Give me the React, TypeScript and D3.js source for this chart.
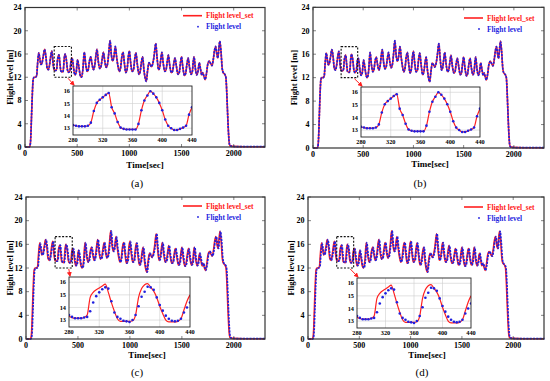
import React from "react";
import * as d3 from "d3";

// main flight record (key points)
const mainTime = [
  0, 40, 48, 55, 62, 70, 78, 86, 100, 112, 120, 132, 142, 152, 162, 175, 188, 200, 212, 224,
  236, 248, 258, 268, 280, 296, 304, 312, 326, 334, 344, 362, 368, 376, 384, 396, 408, 418, 432, 440,
  452, 464, 478, 490, 504, 516, 530, 542, 554, 568, 582, 596, 606, 618, 630, 642, 656, 668, 680, 690,
  702, 716, 728, 740, 752, 764, 778, 790, 802, 815, 828, 840, 852, 866, 878, 892, 904, 916, 928, 940,
  952, 966, 978, 990, 1000, 1012, 1026, 1040, 1052, 1063, 1076, 1092, 1104, 1116, 1127, 1140, 1152, 1162, 1174, 1188,
  1200, 1212, 1224, 1236, 1253, 1266, 1280, 1292, 1302, 1312, 1324, 1340, 1352, 1364, 1374, 1386, 1402, 1414, 1426, 1437,
  1450, 1466, 1478, 1490, 1500, 1512, 1528, 1540, 1552, 1564, 1576, 1592, 1604, 1612, 1620, 1632, 1646, 1658, 1670, 1682,
  1694, 1704, 1714, 1726, 1738, 1752, 1766, 1778, 1792, 1804, 1816, 1827, 1838, 1848, 1858, 1867, 1878, 1890, 1900, 1915,
  1925, 1932, 1940, 1950, 1958, 1966, 1990, 2100, 2300,
];
const mainLevel = [
  0, 0, 0.2, 1.5, 5, 9, 11.6, 12, 12, 12.3, 14.2, 16.2, 15.2, 14.2, 14.4, 15.6, 16.8, 15.6, 13.6, 13.3,
  14.2, 15.8, 16.5, 14.5, 13.25, 13.15, 13.45, 15.05, 15.85, 14.5, 13.05, 12.9, 13.35, 15.25, 16.0, 15.05, 13.2, 12.85, 13.2, 14.7,
  15.3, 13.8, 12.4, 12.8, 15.0, 13.8, 12.3, 12.0, 13.2, 16.3, 14.2, 13.0, 13.3, 14.8, 15.5, 14.3, 13.3, 14.0, 15.8, 16.8,
  14.8, 13.5, 13.8, 15.2, 16.3, 14.8, 13.7, 14.2, 16.0, 18.3, 15.8, 14.8, 15.5, 17.3, 15.5, 13.8, 13.0, 13.6, 15.5, 16.3,
  14.5, 12.8, 13.3, 15.5, 16.5, 14.6, 13.0, 13.3, 15.2, 16.2, 14.3, 12.5, 13.0, 14.6, 15.5, 13.2, 11.8, 11.3, 13.0, 14.5,
  14.2, 13.8, 14.3, 15.5, 17.8, 15.3, 13.3, 13.8, 15.2, 16.3, 14.5, 13.0, 13.3, 14.8, 15.8, 14.2, 12.8, 13.0, 14.4, 15.3,
  14.0, 12.5, 12.8, 14.5, 15.5, 13.8, 12.3, 12.7, 14.3, 15.3, 13.8, 12.5, 13.0, 14.6, 15.5, 13.6, 12.4, 13.0, 14.5, 13.4,
  12.4, 12.8, 12.2, 11.6, 12.5, 14.3, 14.8, 14.4, 14.0, 15.0, 16.6, 17.3, 16.0, 15.3, 17.0, 18.2, 16.5, 13.5, 12.8, 12.5,
  12.0, 10.0, 6.5, 2.5, 0.6, 0.2, 0.1, 0.05, 0.05,
];

// zoomed window 280-440 s
const insetTime = [
  280, 284, 288, 292, 296, 300, 304, 308, 312, 316, 320, 324, 328, 332, 336, 340, 344, 348, 352, 356, 360,
  364, 368, 372, 376, 380, 384, 388, 392, 396, 400, 404, 408, 412, 416, 420, 424, 428, 432, 436, 440,
];
const insetSetAB = [
  13.25, 13.2, 13.15, 13.15, 13.15, 13.2, 13.45, 14.4, 15.05, 15.3, 15.5, 15.7, 15.85, 14.7, 14.2, 13.5, 13.05, 12.95, 12.9, 12.9, 12.9,
  12.9, 13.35, 14.45, 15.25, 15.65, 16.0, 15.8, 15.5, 15.05, 14.45, 13.7, 13.2, 13.0, 12.85, 12.85, 12.95, 13.05, 13.2, 14.1, 14.7,
];
const insetSetCD = [
  13.3, 13.2, 13.15, 13.15, 13.15, 13.2, 13.4, 14.8, 15.2, 15.4, 15.55, 15.7, 15.85, 15.2, 14.4, 13.7, 13.1, 12.9, 12.9, 12.9, 12.9,
  12.95, 13.4, 14.8, 15.5, 15.8, 15.9, 15.6, 15.3, 14.8, 14.1, 13.5, 13.0, 12.85, 12.85, 12.85, 12.9, 13.1, 13.8, 14.5, 15.0,
];
const insetMeasCD = [
  13.4, 13.25, 13.15, 13.15, 13.15, 13.2, 13.25, 13.7, 14.4, 14.9, 15.2, 15.45, 15.6, 15.5, 14.5, 13.6, 13.25, 13.1, 12.95, 12.9, 12.85,
  13.0, 13.4, 14.1, 14.85, 15.25, 15.65, 15.6, 15.4, 14.8, 14.2, 13.75, 13.35, 13.1, 12.95, 12.9, 12.95, 13.1, 13.6, 14.0, 14.4,
];

const xTicks = [0, 500, 1000, 1500, 2000];
const yTicks = [0, 4, 8, 12, 16, 20, 24];
const insetXTicks = [280, 320, 360, 400, 440];
const insetYTicks = [13, 14, 15, 16];
const panelTags = ["(a)", "(b)", "(c)", "(d)"];
const legendNames = ["Flight level_set", "Flight level"];

const RED = "#ff2020";
const BLUE = "#1f1fe0";
const FONT = "'Liberation Serif', 'Times New Roman', serif";

const layouts = [
  { x0: 25, x1: 265, y0: 7.5, y1: 147, yl: 10, xlx: 145, xly: 168, tx: 137, ty: 187, lx: 183, ly: 15.7, ix0: 73, ix1: 192, iy0: 86, iy1: 135 },
  { x0: 313, x1: 544, y0: 7.3, y1: 148, yl: 294, xlx: 430, xly: 167, tx: 420, ty: 187, lx: 464, ly: 18, ix0: 361, ix1: 480, iy0: 87, iy1: 137 },
  { x0: 26, x1: 265, y0: 197, y1: 339, yl: 10, xlx: 147, xly: 357.5, tx: 137, ty: 376, lx: 183, ly: 206, ix0: 69, ix1: 190, iy0: 277, iy1: 327 },
  { x0: 308, x1: 544, y0: 197, y1: 339, yl: 291, xlx: 427, xly: 357.5, tx: 422, ty: 376, lx: 464, ly: 207, ix0: 357, ix1: 471, iy0: 278, iy1: 328 },
];

type Lay = (typeof layouts)[number];

function Panel({ lay, idx, setVals, measVals, lag }: { lay: Lay; idx: number; setVals: number[]; measVals: number[]; lag: number }) {
  const x = d3.scaleLinear().domain([0, 2300]).range([lay.x0, lay.x1]);
  const y = d3.scaleLinear().domain([0, 24]).range([lay.y1, lay.y0]);
  const pts: [number, number][] = mainTime.map((t, i) => [t, mainLevel[i]]);
  const redLine = d3.line<[number, number]>().x(d => x(d[0])).y(d => y(d[1])).curve(d3.curveMonotoneX);
  const blueLine = d3.line<[number, number]>().x(d => x(d[0] + lag)).y(d => y(d[1])).curve(d3.curveMonotoneX);

  const ix = d3.scaleLinear().domain([280, 440]).range([lay.ix0, lay.ix1]);
  const iy = d3.scaleLinear().domain([12.45, 16.42]).range([lay.iy1, lay.iy0]);
  const ipts: [number, number][] = insetTime.map((t, i) => [t, setVals[i]]);
  const iLine = d3.line<[number, number]>().x(d => ix(d[0])).y(d => iy(d[1])).curve(d3.curveMonotoneX);
  const clipId = `clip${idx}`;

  const bx0 = x(280), bx1 = x(445), by0 = y(17.3), by1 = y(12);

  return (
    <g fontFamily={FONT}>
      <defs>
        <clipPath id={clipId}>
          <rect x={lay.ix0} y={lay.iy0} width={lay.ix1 - lay.ix0} height={lay.iy1 - lay.iy0} />
        </clipPath>
      </defs>
      {/* main axes */}
      <rect x={lay.x0} y={lay.y0} width={lay.x1 - lay.x0} height={lay.y1 - lay.y0} fill="white" />
      <path d={redLine(pts) || ""} fill="none" stroke={RED} strokeWidth={1.6} />
      <path d={blueLine(pts) || ""} fill="none" stroke={BLUE} strokeWidth={1.7} strokeDasharray="2.2 1.1" />
      {xTicks.map(t => (
        <g key={"x" + t}>
          <line x1={x(t)} x2={x(t)} y1={lay.y1} y2={lay.y1 - 3} stroke="#333" strokeWidth={0.6} />
          <line x1={x(t)} x2={x(t)} y1={lay.y0} y2={lay.y0 + 3} stroke="#333" strokeWidth={0.6} />
          <text x={x(t)} y={lay.y1 + 9} fontSize={8} fontWeight="bold" textAnchor="middle">{t}</text>
        </g>
      ))}
      {yTicks.map(t => (
        <g key={"y" + t}>
          <line x1={lay.x0} x2={lay.x0 + 3} y1={y(t)} y2={y(t)} stroke="#333" strokeWidth={0.6} />
          <line x1={lay.x1} x2={lay.x1 - 3} y1={y(t)} y2={y(t)} stroke="#333" strokeWidth={0.6} />
          <text x={lay.x0 - 3.5} y={y(t) + 2.8} fontSize={8} fontWeight="bold" textAnchor="end">{t}</text>
        </g>
      ))}
      <rect x={lay.x0} y={lay.y0} width={lay.x1 - lay.x0} height={lay.y1 - lay.y0} fill="none" stroke="#333" strokeWidth={1.2} />

      {/* zoom marker */}
      <rect x={bx0} y={by0} width={bx1 - bx0} height={by1 - by0} fill="none" stroke="#111" strokeWidth={1.1} strokeDasharray="2 1.5" />
      <line x1={x(412)} y1={by1 + 1} x2={lay.ix0 + 1} y2={lay.iy0 - 1} stroke={RED} strokeWidth={1} markerEnd="url(#arrow)" />

      {/* inset */}
      <rect x={lay.ix0} y={lay.iy0} width={lay.ix1 - lay.ix0} height={lay.iy1 - lay.iy0} fill="white" />
      {insetXTicks.slice(1, -1).map(t => (
        <line key={"gx" + t} x1={ix(t)} x2={ix(t)} y1={lay.iy0} y2={lay.iy1} stroke="#cfcfcf" strokeWidth={0.6} />
      ))}
      {insetYTicks.map(t => (
        <line key={"gy" + t} x1={lay.ix0} x2={lay.ix1} y1={iy(t)} y2={iy(t)} stroke="#cfcfcf" strokeWidth={0.6} />
      ))}
      <g clipPath={`url(#${clipId})`}>
        <path d={iLine(ipts) || ""} fill="none" stroke={RED} strokeWidth={1.2} />
        {insetTime.map((t, i) => (
          <circle key={"d" + t} cx={ix(t)} cy={iy(measVals[i])} r={1.3} fill={BLUE} />
        ))}
      </g>
      {insetXTicks.map(t => (
        <text key={"ix" + t} x={ix(t)} y={lay.iy1 + 7} fontSize={6.3} fontWeight="bold" textAnchor="middle">{t}</text>
      ))}
      {insetYTicks.map(t => (
        <text key={"iy" + t} x={lay.ix0 - 3} y={iy(t) + 2.2} fontSize={6.3} fontWeight="bold" textAnchor="end">{t}</text>
      ))}
      <rect x={lay.ix0} y={lay.iy0} width={lay.ix1 - lay.ix0} height={lay.iy1 - lay.iy0} fill="none" stroke="#222" strokeWidth={0.9} />

      {/* legend */}
      <line x1={lay.lx} x2={lay.lx + 19} y1={lay.ly} y2={lay.ly} stroke={RED} strokeWidth={1.6} />
      <text x={lay.lx + 23} y={lay.ly + 2.6} fontSize={7.4} fontWeight="bold" fill={RED}>{legendNames[0]}</text>
      <circle cx={lay.lx + 15} cy={lay.ly + 11} r={0.9} fill={BLUE} />
      <text x={lay.lx + 23} y={lay.ly + 13.6} fontSize={7.4} fontWeight="bold" fill={BLUE}>{legendNames[1]}</text>

      {/* labels */}
      <text transform={`translate(${lay.yl + 3},${(lay.y0 + lay.y1) / 2}) rotate(-90)`} fontSize={8.5} fontWeight="bold" textAnchor="middle">
        Flight level [m]
      </text>
      <text x={lay.xlx} y={lay.xly} fontSize={9} fontWeight="bold" textAnchor="middle">Time[sec]</text>
      <text x={lay.tx} y={lay.ty} fontSize={11} textAnchor="middle">{panelTags[idx]}</text>
    </g>
  );
}

export default function App() {
  const sets = [insetSetAB, insetSetAB, insetSetCD, insetSetCD];
  const meas = [insetSetAB, insetSetAB, insetMeasCD, insetMeasCD];
  const lags = [0, 0, 5, 5];
  return (
    <svg width={550} height={381} style={{ position: "absolute", left: 0, top: 0, background: "white" }}>
      <defs>
        <marker id="arrow" viewBox="0 0 10 10" refX="8" refY="5" markerWidth="5" markerHeight="5" orient="auto">
          <path d="M0,0 L10,5 L0,10 z" fill={RED} />
        </marker>
      </defs>
      {layouts.map((lay, i) => (
        <Panel key={i} lay={lay} idx={i} setVals={sets[i]} measVals={meas[i]} lag={lags[i]} />
      ))}
    </svg>
  );
}
